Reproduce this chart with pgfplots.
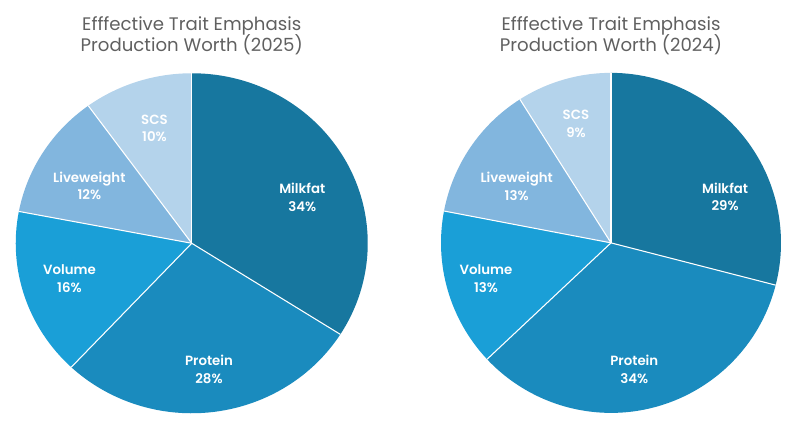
\documentclass[border=0pt]{standalone}
\usepackage{fontspec}
\setmainfont{Poppins}
\newfontfamily\labelfont{Poppins SemiBold}
\usepackage{pgfplots}
\usepackage{pgfplotstable}
\pgfplotsset{compat=1.18}

\definecolor{milkfat}{HTML}{17779F}
\definecolor{protein}{HTML}{1A8BBE}
\definecolor{volume}{HTML}{1A9FD7}
\definecolor{liveweight}{HTML}{82B6DE}
\definecolor{scs}{HTML}{B4D3EB}
\definecolor{titlegrey}{HTML}{606060}

% share = drawn share of the circle (%), label = printed percent
\pgfplotstableread{
trait      share label lx     ly     colour
Milkfat    34    34    0.628  0.272  milkfat
Protein    28    28    0.098  -0.741 protein
Volume     16    16    -0.695 -0.206 volume
Liveweight 12    12    -0.582 0.337  liveweight
SCS        10    10    -0.212 0.676  scs
}\pietwentyfive

\pgfplotstableread{
trait      share label lx     ly     colour
Milkfat    29    29    0.671  0.271  milkfat
Protein    34    34    0.137  -0.745 protein
Volume     15    13    -0.735 -0.210 volume
Liveweight 13    13    -0.555 0.333  liveweight
SCS        9     9     -0.206 0.698  scs
}\pietwentyfour

% #1 table, #2 x radius, #3 y radius
\newcommand\drawpie[3]{%
  \pgfplotstablegetrowsof{#1}%
  \pgfmathtruncatemacro\lastrow{\pgfplotsretval-1}%
  \def\cumangle{90}%
  \pgfplotsforeachungrouped \i in {0,...,\lastrow}{%
    \pgfplotstablegetelem{\i}{share}\of{#1}\let\share\pgfplotsretval
    \pgfplotstablegetelem{\i}{colour}\of{#1}\let\col\pgfplotsretval
    \pgfmathsetmacro\endangle{\cumangle-3.6*\share}%
    \edef\temp{\noexpand\fill[\col] (axis cs:0,0) -- (axis cs:{cos(\cumangle)},{sin(\cumangle)})
      arc[start angle=\cumangle, end angle=\endangle, x radius=#2, y radius=#3] -- cycle;}%
    \temp
    \let\cumangle\endangle
  }%
  \def\cumangle{90}%
  \pgfplotsforeachungrouped \i in {0,...,\lastrow}{%
    \pgfplotstablegetelem{\i}{share}\of{#1}\let\share\pgfplotsretval
    \edef\temp{\noexpand\draw[white, line width=0.8pt] (axis cs:0,0) -- (axis cs:{cos(\cumangle)},{sin(\cumangle)});}%
    \temp
    \pgfmathsetmacro\cumangle{\cumangle-3.6*\share}%
  }%
  \pgfplotsforeachungrouped \i in {0,...,\lastrow}{%
    \pgfplotstablegetelem{\i}{trait}\of{#1}\let\trait\pgfplotsretval
    \pgfplotstablegetelem{\i}{label}\of{#1}\let\lab\pgfplotsretval
    \pgfplotstablegetelem{\i}{lx}\of{#1}\let\lx\pgfplotsretval
    \pgfplotstablegetelem{\i}{ly}\of{#1}\let\ly\pgfplotsretval
    \edef\temp{\noexpand\node[white, align=center, font=\noexpand\labelfont\noexpand\fontsize{10}{13.3}\noexpand\selectfont]
      at (axis cs:\lx,\ly) {\trait\noexpand\\\lab\noexpand\%};}%
    \temp
  }%
}

\begin{document}
\begin{tikzpicture}
\path[use as bounding box] (0,0) rectangle (600pt,324.75pt);

\begin{axis}[
    hide axis, scale only axis,
    width=264pt, height=255pt,
    xmin=-1, xmax=1, ymin=-1, ymax=1,
    at={(143.8pt,142.3pt)}, anchor=origin,
    clip=false
  ]
  \drawpie{\pietwentyfive}{132pt}{127.5pt}
\end{axis}

\begin{axis}[
    hide axis, scale only axis,
    width=255pt, height=255pt,
    xmin=-1, xmax=1, ymin=-1, ymax=1,
    at={(458.25pt,142.6pt)}, anchor=origin,
    clip=false
  ]
  \drawpie{\pietwentyfour}{127.5pt}{127.5pt}
\end{axis}

\node[titlegrey, align=center, font=\fontsize{13.6}{16.25}\selectfont] at (143.8pt,297.9pt)
  {Efffective Trait Emphasis\\Production Worth (2025)};
\node[titlegrey, align=center, font=\fontsize{13.6}{16.25}\selectfont] at (458.25pt,297.9pt)
  {Efffective Trait Emphasis\\Production Worth (2024)};
\end{tikzpicture}
\end{document}
